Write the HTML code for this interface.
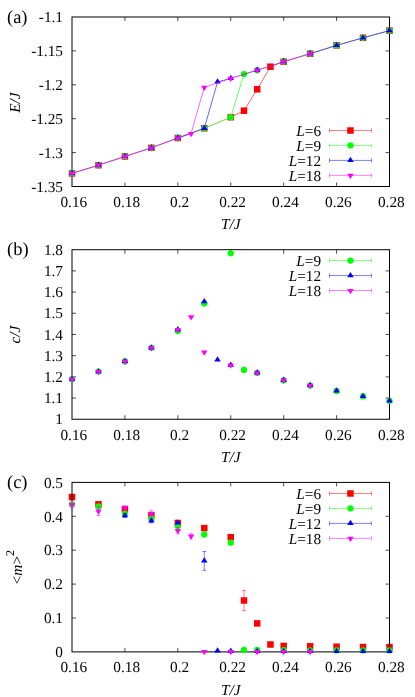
<!DOCTYPE html>
<html><head><meta charset="utf-8"><title>Figure</title>
<style>
html,body{margin:0;padding:0;background:#fff;}
svg{display:block;will-change:transform;font-family:"Liberation Serif",serif;}
text{fill:#000;text-rendering:geometricPrecision;}
</style></head>
<body>
<svg width="415" height="697" viewBox="0 0 415 697">
<rect width="415" height="697" fill="#fff"/>
<g id="panel-a">
<path d="M72 173.4L98.46 165.2L124.92 156.5L151.38 147.8L177.83 138L204.29 128.3L230.75 117.2M283.67 61.7L310.12 53.7L336.58 45.4L363.04 37.8L389.5 30.6" stroke="#ff0000" stroke-width="0.3" fill="none" stroke-linejoin="round"/>
<path d="M230.75 117.2L243.98 110.7L257.21 89.3L270.44 66.7L283.67 61.7" stroke="#ff0000" stroke-width="0.6" fill="none" stroke-linejoin="round"/>
<rect x="68.75" y="170.15" width="6.5" height="6.5" fill="#ff0000"/>
<rect x="95.21" y="161.95" width="6.5" height="6.5" fill="#ff0000"/>
<rect x="121.67" y="153.25" width="6.5" height="6.5" fill="#ff0000"/>
<rect x="148.12" y="144.55" width="6.5" height="6.5" fill="#ff0000"/>
<rect x="174.58" y="134.75" width="6.5" height="6.5" fill="#ff0000"/>
<rect x="201.04" y="125.05" width="6.5" height="6.5" fill="#ff0000"/>
<rect x="227.5" y="113.95" width="6.5" height="6.5" fill="#ff0000"/>
<rect x="240.73" y="107.45" width="6.5" height="6.5" fill="#ff0000"/>
<rect x="253.96" y="86.05" width="6.5" height="6.5" fill="#ff0000"/>
<rect x="267.19" y="63.45" width="6.5" height="6.5" fill="#ff0000"/>
<rect x="280.42" y="58.45" width="6.5" height="6.5" fill="#ff0000"/>
<rect x="306.88" y="50.45" width="6.5" height="6.5" fill="#ff0000"/>
<rect x="333.33" y="42.15" width="6.5" height="6.5" fill="#ff0000"/>
<rect x="359.79" y="34.55" width="6.5" height="6.5" fill="#ff0000"/>
<rect x="386.25" y="27.35" width="6.5" height="6.5" fill="#ff0000"/>
<path d="M124.92 186.5v-4M124.92 17v4M177.83 186.5v-4M177.83 17v4M230.75 186.5v-4M230.75 17v4M283.67 186.5v-4M283.67 17v4M336.58 186.5v-4M336.58 17v4M72 50.9h4M389.5 50.9h-4M72 84.8h4M389.5 84.8h-4M72 118.7h4M389.5 118.7h-4M72 152.6h4M389.5 152.6h-4" stroke="#000" stroke-width="0.7" fill="none"/>
<rect x="72" y="17" width="317.5" height="169.5" fill="none" stroke="#000" stroke-width="1"/>
<path d="M72 173.4L98.46 165.2L124.92 156.5L151.38 147.8L177.83 138L204.29 128.3M257.21 70.2L283.67 61.7L310.12 53.7L336.58 45.4L363.04 37.8L389.5 30.6" stroke="#00ff00" stroke-width="0.3" fill="none" stroke-linejoin="round"/>
<path d="M204.29 128.3L230.75 117.2L243.98 74.1L257.21 70.2" stroke="#00ff00" stroke-width="0.6" fill="none" stroke-linejoin="round"/>
<circle cx="72" cy="173.4" r="3.15" fill="#00ff00"/>
<circle cx="98.46" cy="165.2" r="3.15" fill="#00ff00"/>
<circle cx="124.92" cy="156.5" r="3.15" fill="#00ff00"/>
<circle cx="151.38" cy="147.8" r="3.15" fill="#00ff00"/>
<circle cx="177.83" cy="138" r="3.15" fill="#00ff00"/>
<circle cx="204.29" cy="128.3" r="3.15" fill="#00ff00"/>
<circle cx="230.75" cy="117.2" r="3.15" fill="#00ff00"/>
<circle cx="243.98" cy="74.1" r="3.15" fill="#00ff00"/>
<circle cx="257.21" cy="70.2" r="3.15" fill="#00ff00"/>
<circle cx="283.67" cy="61.7" r="3.15" fill="#00ff00"/>
<circle cx="310.12" cy="53.7" r="3.15" fill="#00ff00"/>
<circle cx="336.58" cy="45.4" r="3.15" fill="#00ff00"/>
<circle cx="363.04" cy="37.8" r="3.15" fill="#00ff00"/>
<circle cx="389.5" cy="30.6" r="3.15" fill="#00ff00"/>
<path d="M72 173.4L98.46 165.2L124.92 156.5L151.38 147.8L177.83 138M230.75 78.4L257.21 70.2L283.67 61.7L310.12 53.7" stroke="#0000ff" stroke-width="0.3" fill="none" stroke-linejoin="round"/>
<path d="M177.83 138L204.29 128.3L217.52 82L230.75 78.4M310.12 53.7L336.58 45.4L363.04 37.8L389.5 30.6" stroke="#0000ff" stroke-width="0.6" fill="none" stroke-linejoin="round"/>
<path d="M72 169.76L68.75 175.03L75.25 175.03Z" fill="#0000ff"/>
<path d="M98.46 161.56L95.21 166.82L101.71 166.82Z" fill="#0000ff"/>
<path d="M124.92 152.86L121.67 158.12L128.17 158.12Z" fill="#0000ff"/>
<path d="M151.38 144.16L148.12 149.43L154.62 149.43Z" fill="#0000ff"/>
<path d="M177.83 134.36L174.58 139.62L181.08 139.62Z" fill="#0000ff"/>
<path d="M204.29 124.66L201.04 129.93L207.54 129.93Z" fill="#0000ff"/>
<path d="M217.52 78.36L214.27 83.62L220.77 83.62Z" fill="#0000ff"/>
<path d="M230.75 74.76L227.5 80.03L234 80.03Z" fill="#0000ff"/>
<path d="M257.21 66.56L253.96 71.83L260.46 71.83Z" fill="#0000ff"/>
<path d="M283.67 58.06L280.42 63.33L286.92 63.33Z" fill="#0000ff"/>
<path d="M310.12 50.06L306.88 55.33L313.38 55.33Z" fill="#0000ff"/>
<path d="M336.58 41.76L333.33 47.02L339.83 47.02Z" fill="#0000ff"/>
<path d="M363.04 34.16L359.79 39.42L366.29 39.42Z" fill="#0000ff"/>
<path d="M389.5 26.96L386.25 32.23L392.75 32.23Z" fill="#0000ff"/>
<path d="M72 173.4L98.46 165.2L124.92 156.5L151.38 147.8L177.83 138L191.06 133.6L204.29 87.3L230.75 78.4L257.21 70.2L283.67 61.7L310.12 53.7" stroke="#ff00ff" stroke-width="0.6" fill="none" stroke-linejoin="round"/>
<path d="M72 177.04L68.75 171.78L75.25 171.78Z" fill="#ff00ff"/>
<path d="M98.46 168.84L95.21 163.57L101.71 163.57Z" fill="#ff00ff"/>
<path d="M124.92 160.14L121.67 154.88L128.17 154.88Z" fill="#ff00ff"/>
<path d="M151.38 151.44L148.12 146.18L154.62 146.18Z" fill="#ff00ff"/>
<path d="M177.83 141.64L174.58 136.38L181.08 136.38Z" fill="#ff00ff"/>
<path d="M191.06 137.24L187.81 131.97L194.31 131.97Z" fill="#ff00ff"/>
<path d="M204.29 90.94L201.04 85.67L207.54 85.67Z" fill="#ff00ff"/>
<path d="M230.75 82.04L227.5 76.78L234 76.78Z" fill="#ff00ff"/>
<path d="M257.21 73.84L253.96 68.58L260.46 68.58Z" fill="#ff00ff"/>
<path d="M283.67 65.34L280.42 60.08L286.92 60.08Z" fill="#ff00ff"/>
<path d="M310.12 57.34L306.88 52.08L313.38 52.08Z" fill="#ff00ff"/>
<text x="321.1" y="135.7" text-anchor="end" font-size="15.3" ><tspan font-style="italic">L</tspan>=6</text>
<path d="M329.5 130.5H371.4M329.5 128.4v4.2M371.4 128.4v4.2" stroke="#ff0000" stroke-width="0.5" fill="none"/>
<rect x="347.2" y="127.25" width="6.5" height="6.5" fill="#ff0000"/>
<text x="321.1" y="150.65" text-anchor="end" font-size="15.3" ><tspan font-style="italic">L</tspan>=9</text>
<path d="M329.5 145.45H371.4M329.5 143.35v4.2M371.4 143.35v4.2" stroke="#00ff00" stroke-width="0.5" fill="none"/>
<circle cx="350.45" cy="145.45" r="3.15" fill="#00ff00"/>
<text x="321.1" y="165.6" text-anchor="end" font-size="15.3" ><tspan font-style="italic">L</tspan>=12</text>
<path d="M329.5 160.4H371.4M329.5 158.3v4.2M371.4 158.3v4.2" stroke="#0000ff" stroke-width="0.5" fill="none"/>
<path d="M350.45 156.76L347.2 162.03L353.7 162.03Z" fill="#0000ff"/>
<text x="321.1" y="180.55" text-anchor="end" font-size="15.3" ><tspan font-style="italic">L</tspan>=18</text>
<path d="M329.5 175.35H371.4M329.5 173.25v4.2M371.4 173.25v4.2" stroke="#ff00ff" stroke-width="0.5" fill="none"/>
<path d="M350.45 178.99L347.2 173.72L353.7 173.72Z" fill="#ff00ff"/>
<text x="73.8" y="207" text-anchor="middle" font-size="15.3" >0.16</text>
<text x="126.72" y="207" text-anchor="middle" font-size="15.3" >0.18</text>
<text x="179.63" y="207" text-anchor="middle" font-size="15.3" >0.2</text>
<text x="232.55" y="207" text-anchor="middle" font-size="15.3" >0.22</text>
<text x="285.47" y="207" text-anchor="middle" font-size="15.3" >0.24</text>
<text x="338.38" y="207" text-anchor="middle" font-size="15.3" >0.26</text>
<text x="391.3" y="207" text-anchor="middle" font-size="15.3" >0.28</text>
<text x="230.75" y="229.1" text-anchor="middle" font-size="15.3" ><tspan font-style="italic">T/J</tspan></text>
<text x="63" y="22.2" text-anchor="end" font-size="15.3" >-1.1</text>
<text x="63" y="56.1" text-anchor="end" font-size="15.3" >-1.15</text>
<text x="63" y="90" text-anchor="end" font-size="15.3" >-1.2</text>
<text x="63" y="123.9" text-anchor="end" font-size="15.3" >-1.25</text>
<text x="63" y="157.8" text-anchor="end" font-size="15.3" >-1.3</text>
<text x="63" y="191.7" text-anchor="end" font-size="15.3" >-1.35</text>
<text transform="translate(19.8 102.65) rotate(-90)" text-anchor="middle" font-size="15.3"><tspan font-style="italic">E/J</tspan></text>
<text x="7" y="22.7" text-anchor="start" font-size="18.5" >(a)</text>
</g>
<g id="panel-b">
<path d="M124.92 419.25v-4M124.92 249.7v4M177.83 419.25v-4M177.83 249.7v4M230.75 419.25v-4M230.75 249.7v4M283.67 419.25v-4M283.67 249.7v4M336.58 419.25v-4M336.58 249.7v4M72 270.89h4M389.5 270.89h-4M72 292.09h4M389.5 292.09h-4M72 313.28h4M389.5 313.28h-4M72 334.48h4M389.5 334.48h-4M72 355.67h4M389.5 355.67h-4M72 376.86h4M389.5 376.86h-4M72 398.06h4M389.5 398.06h-4" stroke="#000" stroke-width="0.7" fill="none"/>
<rect x="72" y="249.7" width="317.5" height="169.55" fill="none" stroke="#000" stroke-width="1"/>
<circle cx="72" cy="379.2" r="3.15" fill="#00ff00"/>
<circle cx="98.46" cy="371.6" r="3.15" fill="#00ff00"/>
<circle cx="124.92" cy="361.4" r="3.15" fill="#00ff00"/>
<circle cx="151.38" cy="347.8" r="3.15" fill="#00ff00"/>
<circle cx="177.83" cy="331.1" r="3.15" fill="#00ff00"/>
<circle cx="204.29" cy="303.5" r="3.15" fill="#00ff00"/>
<circle cx="230.75" cy="253.3" r="3.15" fill="#00ff00"/>
<circle cx="243.98" cy="369.9" r="3.15" fill="#00ff00"/>
<circle cx="257.21" cy="372.8" r="3.15" fill="#00ff00"/>
<circle cx="283.67" cy="380.4" r="3.15" fill="#00ff00"/>
<circle cx="310.12" cy="385.6" r="3.15" fill="#00ff00"/>
<circle cx="336.58" cy="391" r="3.15" fill="#00ff00"/>
<circle cx="363.04" cy="396.4" r="3.15" fill="#00ff00"/>
<circle cx="389.5" cy="400.8" r="3.15" fill="#00ff00"/>
<path d="M72 375.56L68.75 380.82L75.25 380.82Z" fill="#0000ff"/>
<path d="M98.46 367.96L95.21 373.23L101.71 373.23Z" fill="#0000ff"/>
<path d="M124.92 357.76L121.67 363.02L128.17 363.02Z" fill="#0000ff"/>
<path d="M151.38 344.16L148.12 349.43L154.62 349.43Z" fill="#0000ff"/>
<path d="M177.83 325.96L174.58 331.23L181.08 331.23Z" fill="#0000ff"/>
<path d="M204.29 297.96L201.04 303.23L207.54 303.23Z" fill="#0000ff"/>
<path d="M217.52 356.36L214.27 361.62L220.77 361.62Z" fill="#0000ff"/>
<path d="M230.75 361.46L227.5 366.73L234 366.73Z" fill="#0000ff"/>
<path d="M257.21 369.16L253.96 374.43L260.46 374.43Z" fill="#0000ff"/>
<path d="M283.67 376.56L280.42 381.82L286.92 381.82Z" fill="#0000ff"/>
<path d="M310.12 381.86L306.88 387.12L313.38 387.12Z" fill="#0000ff"/>
<path d="M336.58 387.36L333.33 392.62L339.83 392.62Z" fill="#0000ff"/>
<path d="M363.04 392.76L359.79 398.02L366.29 398.02Z" fill="#0000ff"/>
<path d="M389.5 397.16L386.25 402.43L392.75 402.43Z" fill="#0000ff"/>
<path d="M72 382.84L68.75 377.57L75.25 377.57Z" fill="#ff00ff"/>
<path d="M98.46 375.24L95.21 369.98L101.71 369.98Z" fill="#ff00ff"/>
<path d="M124.92 365.04L121.67 359.77L128.17 359.77Z" fill="#ff00ff"/>
<path d="M151.38 351.44L148.12 346.18L154.62 346.18Z" fill="#ff00ff"/>
<path d="M177.83 333.24L174.58 327.98L181.08 327.98Z" fill="#ff00ff"/>
<path d="M191.06 320.44L187.81 315.18L194.31 315.18Z" fill="#ff00ff"/>
<path d="M204.29 355.64L201.04 350.38L207.54 350.38Z" fill="#ff00ff"/>
<path d="M230.75 368.74L227.5 363.48L234 363.48Z" fill="#ff00ff"/>
<path d="M257.21 376.44L253.96 371.18L260.46 371.18Z" fill="#ff00ff"/>
<path d="M283.67 383.64L280.42 378.38L286.92 378.38Z" fill="#ff00ff"/>
<path d="M310.12 388.94L306.88 383.68L313.38 383.68Z" fill="#ff00ff"/>
<text x="321.1" y="265.8" text-anchor="end" font-size="15.3" ><tspan font-style="italic">L</tspan>=9</text>
<path d="M329.5 260.6H371.4M329.5 258.5v4.2M371.4 258.5v4.2" stroke="#00ff00" stroke-width="0.5" fill="none"/>
<circle cx="350.45" cy="260.6" r="3.15" fill="#00ff00"/>
<text x="321.1" y="280.75" text-anchor="end" font-size="15.3" ><tspan font-style="italic">L</tspan>=12</text>
<path d="M329.5 275.55H371.4M329.5 273.45v4.2M371.4 273.45v4.2" stroke="#0000ff" stroke-width="0.5" fill="none"/>
<path d="M350.45 271.91L347.2 277.18L353.7 277.18Z" fill="#0000ff"/>
<text x="321.1" y="295.7" text-anchor="end" font-size="15.3" ><tspan font-style="italic">L</tspan>=18</text>
<path d="M329.5 290.5H371.4M329.5 288.4v4.2M371.4 288.4v4.2" stroke="#ff00ff" stroke-width="0.5" fill="none"/>
<path d="M350.45 294.14L347.2 288.88L353.7 288.88Z" fill="#ff00ff"/>
<text x="73.8" y="439.75" text-anchor="middle" font-size="15.3" >0.16</text>
<text x="126.72" y="439.75" text-anchor="middle" font-size="15.3" >0.18</text>
<text x="179.63" y="439.75" text-anchor="middle" font-size="15.3" >0.2</text>
<text x="232.55" y="439.75" text-anchor="middle" font-size="15.3" >0.22</text>
<text x="285.47" y="439.75" text-anchor="middle" font-size="15.3" >0.24</text>
<text x="338.38" y="439.75" text-anchor="middle" font-size="15.3" >0.26</text>
<text x="391.3" y="439.75" text-anchor="middle" font-size="15.3" >0.28</text>
<text x="230.75" y="461.85" text-anchor="middle" font-size="15.3" ><tspan font-style="italic">T/J</tspan></text>
<text x="63" y="254.9" text-anchor="end" font-size="15.3" >1.8</text>
<text x="63" y="276.09" text-anchor="end" font-size="15.3" >1.7</text>
<text x="63" y="297.29" text-anchor="end" font-size="15.3" >1.6</text>
<text x="63" y="318.48" text-anchor="end" font-size="15.3" >1.5</text>
<text x="63" y="339.68" text-anchor="end" font-size="15.3" >1.4</text>
<text x="63" y="360.87" text-anchor="end" font-size="15.3" >1.3</text>
<text x="63" y="382.06" text-anchor="end" font-size="15.3" >1.2</text>
<text x="63" y="403.26" text-anchor="end" font-size="15.3" >1.1</text>
<text x="63" y="424.45" text-anchor="end" font-size="15.3" >1</text>
<text transform="translate(19.8 334.68) rotate(-90)" text-anchor="middle" font-size="15.3"><tspan font-style="italic">c/J</tspan></text>
<text x="7" y="255.4" text-anchor="start" font-size="18.5" >(b)</text>
</g>
<g id="panel-c">
<rect x="68.75" y="493.75" width="6.5" height="6.5" fill="#ff0000"/>
<rect x="95.21" y="501.05" width="6.5" height="6.5" fill="#ff0000"/>
<rect x="121.67" y="506.05" width="6.5" height="6.5" fill="#ff0000"/>
<rect x="148.12" y="512.15" width="6.5" height="6.5" fill="#ff0000"/>
<rect x="174.58" y="519.75" width="6.5" height="6.5" fill="#ff0000"/>
<rect x="201.04" y="524.85" width="6.5" height="6.5" fill="#ff0000"/>
<rect x="227.5" y="533.95" width="6.5" height="6.5" fill="#ff0000"/>
<path d="M243.98 590.4V610.6M242.18 590.4H245.78M242.18 610.6H245.78" stroke="#ff0000" stroke-width="0.5" fill="none"/>
<rect x="240.73" y="597.25" width="6.5" height="6.5" fill="#ff0000"/>
<rect x="253.96" y="620.15" width="6.5" height="6.5" fill="#ff0000"/>
<rect x="267.19" y="641.25" width="6.5" height="6.5" fill="#ff0000"/>
<rect x="280.42" y="642.65" width="6.5" height="6.5" fill="#ff0000"/>
<rect x="306.88" y="643.05" width="6.5" height="6.5" fill="#ff0000"/>
<rect x="333.33" y="643.45" width="6.5" height="6.5" fill="#ff0000"/>
<rect x="359.79" y="643.75" width="6.5" height="6.5" fill="#ff0000"/>
<rect x="386.25" y="643.85" width="6.5" height="6.5" fill="#ff0000"/>
<path d="M124.92 651.9v-4M124.92 482.4v4M177.83 651.9v-4M177.83 482.4v4M230.75 651.9v-4M230.75 482.4v4M283.67 651.9v-4M283.67 482.4v4M336.58 651.9v-4M336.58 482.4v4M72 516.3h4M389.5 516.3h-4M72 550.2h4M389.5 550.2h-4M72 584.1h4M389.5 584.1h-4M72 618h4M389.5 618h-4" stroke="#000" stroke-width="0.7" fill="none"/>
<rect x="72" y="482.4" width="317.5" height="169.5" fill="none" stroke="#000" stroke-width="1"/>
<circle cx="72" cy="504.4" r="3.15" fill="#00ff00"/>
<circle cx="98.46" cy="506.4" r="3.15" fill="#00ff00"/>
<circle cx="124.92" cy="513.6" r="3.15" fill="#00ff00"/>
<circle cx="151.38" cy="518.5" r="3.15" fill="#00ff00"/>
<circle cx="177.83" cy="526" r="3.15" fill="#00ff00"/>
<circle cx="204.29" cy="534.5" r="3.15" fill="#00ff00"/>
<circle cx="230.75" cy="542.7" r="3.15" fill="#00ff00"/>
<circle cx="243.98" cy="649.9" r="3.15" fill="#00ff00"/>
<circle cx="257.21" cy="650" r="3.15" fill="#00ff00"/>
<circle cx="283.67" cy="650.2" r="3.15" fill="#00ff00"/>
<circle cx="310.12" cy="650.3" r="3.15" fill="#00ff00"/>
<circle cx="336.58" cy="650.3" r="3.15" fill="#00ff00"/>
<circle cx="363.04" cy="650.3" r="3.15" fill="#00ff00"/>
<circle cx="389.5" cy="650.3" r="3.15" fill="#00ff00"/>
<path d="M124.92 513.7V517.5M123.12 513.7H126.72M123.12 517.5H126.72" stroke="#0000ff" stroke-width="0.5" fill="none"/>
<path d="M124.92 511.96L121.67 517.23L128.17 517.23Z" fill="#0000ff"/>
<path d="M151.38 519V523M149.57 519H153.18M149.57 523H153.18" stroke="#0000ff" stroke-width="0.5" fill="none"/>
<path d="M151.38 517.36L148.12 522.62L154.62 522.62Z" fill="#0000ff"/>
<path d="M177.83 519.16L174.58 524.42L181.08 524.42Z" fill="#0000ff"/>
<path d="M204.29 551.5V570.4M202.49 551.5H206.09M202.49 570.4H206.09" stroke="#0000ff" stroke-width="0.5" fill="none"/>
<path d="M204.29 557.31L201.04 562.58L207.54 562.58Z" fill="#0000ff"/>
<path d="M217.52 647.36L214.27 652.62L220.77 652.62Z" fill="#0000ff"/>
<path d="M230.75 647.86L227.5 653.12L234 653.12Z" fill="#0000ff"/>
<path d="M257.21 647.76L253.96 653.02L260.46 653.02Z" fill="#0000ff"/>
<path d="M283.67 647.76L280.42 653.02L286.92 653.02Z" fill="#0000ff"/>
<path d="M310.12 647.76L306.88 653.02L313.38 653.02Z" fill="#0000ff"/>
<path d="M336.58 647.66L333.33 652.92L339.83 652.92Z" fill="#0000ff"/>
<path d="M363.04 647.66L359.79 652.92L366.29 652.92Z" fill="#0000ff"/>
<path d="M389.5 647.66L386.25 652.92L392.75 652.92Z" fill="#0000ff"/>
<path d="M72 500.9V508.1M70.2 500.9H73.8M70.2 508.1H73.8" stroke="#ff00ff" stroke-width="0.5" fill="none"/>
<path d="M72 508.14L68.75 502.88L75.25 502.88Z" fill="#ff00ff"/>
<path d="M98.46 506.7V515.5M96.66 506.7H100.26M96.66 515.5H100.26" stroke="#ff00ff" stroke-width="0.5" fill="none"/>
<path d="M98.46 514.74L95.21 509.48L101.71 509.48Z" fill="#ff00ff"/>
<path d="M124.92 505.8V509M123.12 505.8H126.72M123.12 509H126.72" stroke="#ff00ff" stroke-width="0.5" fill="none"/>
<path d="M124.92 511.04L121.67 505.77L128.17 505.77Z" fill="#ff00ff"/>
<path d="M151.38 510.3V516.3M149.57 510.3H153.18M149.57 516.3H153.18" stroke="#ff00ff" stroke-width="0.5" fill="none"/>
<path d="M151.38 516.94L148.12 511.67L154.62 511.67Z" fill="#ff00ff"/>
<path d="M177.83 527.5V533.9M176.03 527.5H179.63M176.03 533.9H179.63" stroke="#ff00ff" stroke-width="0.5" fill="none"/>
<path d="M177.83 534.34L174.58 529.08L181.08 529.08Z" fill="#ff00ff"/>
<path d="M191.06 533.3V539.1M189.26 533.3H192.86M189.26 539.1H192.86" stroke="#ff00ff" stroke-width="0.5" fill="none"/>
<path d="M191.06 539.84L187.81 534.58L194.31 534.58Z" fill="#ff00ff"/>
<path d="M204.29 655.34L201.04 650.08L207.54 650.08Z" fill="#ff00ff"/>
<path d="M230.75 655.34L227.5 650.08L234 650.08Z" fill="#ff00ff"/>
<path d="M257.21 655.34L253.96 650.08L260.46 650.08Z" fill="#ff00ff"/>
<path d="M283.67 655.34L280.42 650.08L286.92 650.08Z" fill="#ff00ff"/>
<path d="M310.12 655.34L306.88 650.08L313.38 650.08Z" fill="#ff00ff"/>
<text x="321.1" y="498.7" text-anchor="end" font-size="15.3" ><tspan font-style="italic">L</tspan>=6</text>
<path d="M329.5 493.5H371.4M329.5 491.4v4.2M371.4 491.4v4.2" stroke="#ff0000" stroke-width="0.5" fill="none"/>
<rect x="347.2" y="490.25" width="6.5" height="6.5" fill="#ff0000"/>
<text x="321.1" y="513.65" text-anchor="end" font-size="15.3" ><tspan font-style="italic">L</tspan>=9</text>
<path d="M329.5 508.45H371.4M329.5 506.35v4.2M371.4 506.35v4.2" stroke="#00ff00" stroke-width="0.5" fill="none"/>
<circle cx="350.45" cy="508.45" r="3.15" fill="#00ff00"/>
<text x="321.1" y="528.6" text-anchor="end" font-size="15.3" ><tspan font-style="italic">L</tspan>=12</text>
<path d="M329.5 523.4H371.4M329.5 521.3v4.2M371.4 521.3v4.2" stroke="#0000ff" stroke-width="0.5" fill="none"/>
<path d="M350.45 519.76L347.2 525.02L353.7 525.02Z" fill="#0000ff"/>
<text x="321.1" y="543.55" text-anchor="end" font-size="15.3" ><tspan font-style="italic">L</tspan>=18</text>
<path d="M329.5 538.35H371.4M329.5 536.25v4.2M371.4 536.25v4.2" stroke="#ff00ff" stroke-width="0.5" fill="none"/>
<path d="M350.45 541.99L347.2 536.73L353.7 536.73Z" fill="#ff00ff"/>
<text x="73.8" y="672.4" text-anchor="middle" font-size="15.3" >0.16</text>
<text x="126.72" y="672.4" text-anchor="middle" font-size="15.3" >0.18</text>
<text x="179.63" y="672.4" text-anchor="middle" font-size="15.3" >0.2</text>
<text x="232.55" y="672.4" text-anchor="middle" font-size="15.3" >0.22</text>
<text x="285.47" y="672.4" text-anchor="middle" font-size="15.3" >0.24</text>
<text x="338.38" y="672.4" text-anchor="middle" font-size="15.3" >0.26</text>
<text x="391.3" y="672.4" text-anchor="middle" font-size="15.3" >0.28</text>
<text x="230.75" y="694.5" text-anchor="middle" font-size="15.3" ><tspan font-style="italic">T/J</tspan></text>
<text x="63" y="487.6" text-anchor="end" font-size="15.3" >0.5</text>
<text x="63" y="521.5" text-anchor="end" font-size="15.3" >0.4</text>
<text x="63" y="555.4" text-anchor="end" font-size="15.3" >0.3</text>
<text x="63" y="589.3" text-anchor="end" font-size="15.3" >0.2</text>
<text x="63" y="623.2" text-anchor="end" font-size="15.3" >0.1</text>
<text x="63" y="657.1" text-anchor="end" font-size="15.3" >0</text>
<text transform="translate(21.5 567.15) rotate(-90)" text-anchor="middle" font-size="15.3">&lt;<tspan font-style="italic">m</tspan>&gt;<tspan font-size="12" dy="-7.4">2</tspan></text>
<text x="7" y="488.1" text-anchor="start" font-size="18.5" >(c)</text>
</g>
</svg>
</body></html>
